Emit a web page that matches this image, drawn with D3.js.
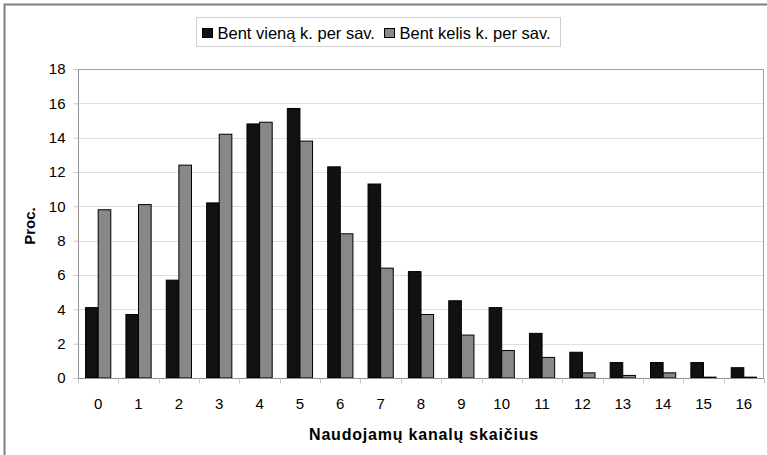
<!DOCTYPE html>
<html>
<head>
<meta charset="utf-8">
<script src="https://cdn.jsdelivr.net/npm/d3@7.9.0/dist/d3.min.js"></script>
<style>
  body { margin: 0; background: #fff; }
  svg { display: block; font-family: "Liberation Sans", Arial, sans-serif; }
</style>
</head>
<body>
<div id="chart"></div>
<script>
const categories = ['0','1','2','3','4','5','6','7','8','9','10','11','12','13','14','15','16'];
const seriesNames = ['Bent vieną k. per sav.', 'Bent kelis k. per sav.'];
const onceWeek  = [4.1, 3.7, 5.7, 10.2, 14.8, 15.7, 12.3, 11.3, 6.2, 4.5, 4.1, 2.6, 1.5, 0.9, 0.9, 0.9, 0.6];
const severalWeek = [9.8, 10.1, 12.4, 14.2, 14.9, 13.8, 8.4, 6.4, 3.7, 2.5, 1.6, 1.2, 0.3, 0.15, 0.3, 0.05, 0.05];
const yTicks = [0, 2, 4, 6, 8, 10, 12, 14, 16, 18];
const colors = ['#111111', '#888888'];

const width = 767, height = 455;
const area = { left: 78, right: 764, top: 69, bottom: 378 };

const svg = d3.select('#chart').append('svg')
  .attr('width', width).attr('height', height);

// outer frame (cropped at right and bottom)
svg.append('path')
  .attr('d', `M4.5,${height + 2}V4.5H${width + 2}`)
  .attr('fill', 'none').attr('stroke', '#808080').attr('stroke-width', 2);

const x = d3.scaleBand().domain(categories).range([area.left, area.right]);
const inner = d3.scaleBand().domain([0, 1]).range([0, x.bandwidth()]).paddingInner(0).paddingOuter(0.6);
const y = d3.scaleLinear().domain([0, 18]).range([area.bottom, area.top]);

// gridlines
svg.append('g')
  .selectAll('line').data(yTicks.slice(1))
  .join('line')
  .attr('x1', area.left).attr('x2', area.right)
  .attr('y1', d => Math.round(y(d)) + 0.5).attr('y2', d => Math.round(y(d)) + 0.5)
  .attr('stroke', '#dedede');

// plot area border top/right
svg.append('path')
  .attr('d', `M${area.left},${area.top + 0.5}H${area.right - 0.5}V${area.bottom}`)
  .attr('fill', 'none').attr('stroke', '#a0a0a0');

// bars
const series = [onceWeek, severalWeek];
series.forEach((vals, si) => {
  svg.append('g')
    .selectAll('rect').data(vals)
    .join('rect')
    .attr('x', (d, i) => x(categories[i]) + inner(si))
    .attr('y', d => y(d))
    .attr('width', inner.bandwidth())
    .attr('height', d => y(0) - y(d))
    .attr('fill', colors[si])
    .attr('stroke', '#000').attr('stroke-width', 1);
});

// x axis
const xAxis = svg.append('g')
  .attr('transform', `translate(0,${area.bottom + 0.5})`);
xAxis.append('line')
  .attr('x1', area.left).attr('x2', area.right)
  .attr('stroke', '#909090');
xAxis.selectAll('.tk').data(d3.range(categories.length + 1))
  .join('line')
  .attr('x1', i => Math.round(area.left + i * x.step()) + 0.5)
  .attr('x2', i => Math.round(area.left + i * x.step()) + 0.5)
  .attr('y1', 0).attr('y2', 5)
  .attr('stroke', '#c8c8c8');
xAxis.selectAll('text').data(categories)
  .join('text')
  .attr('x', d => x(d) + x.bandwidth() / 2)
  .attr('y', 30)
  .attr('text-anchor', 'middle')
  .attr('font-size', 15)
  .attr('fill', '#000')
  .text(d => d);

// y axis
const yAxis = svg.append('g')
  .attr('transform', `translate(${area.left + 0.5},0)`)
  .call(d3.axisLeft(y).tickValues(yTicks).tickSize(5).tickPadding(8));
yAxis.select('.domain').attr('stroke', '#909090').attr('d', `M0,${area.top}V${area.bottom}`);
yAxis.selectAll('.tick line').attr('stroke', '#c8c8c8');
yAxis.selectAll('.tick text').attr('font-size', 15).attr('fill', '#000')
  .attr('font-family', '"Liberation Sans", Arial, sans-serif');

// axis titles
svg.append('text')
  .attr('x', 424).attr('y', 440)
  .attr('text-anchor', 'middle')
  .attr('font-size', 16).attr('font-weight', 'bold')
  .attr('letter-spacing', 0.8)
  .text('Naudojamų kanalų skaičius');
svg.append('text')
  .attr('transform', `translate(35,226) rotate(-90)`)
  .attr('text-anchor', 'middle')
  .attr('font-size', 15).attr('font-weight', 'bold')
  .text('Proc.');

// legend
const legend = svg.append('g');
legend.append('rect')
  .attr('x', 196.5).attr('y', 17.5).attr('width', 364).attr('height', 29)
  .attr('fill', '#fff').attr('stroke', '#d0d0d0');
const legendX = [202.5, 384.5];
seriesNames.forEach((name, i) => {
  legend.append('rect')
    .attr('x', legendX[i]).attr('y', 28.5).attr('width', 10).attr('height', 9)
    .attr('fill', colors[i]).attr('stroke', '#000');
  legend.append('text')
    .attr('x', legendX[i] + 15).attr('y', 38.5)
    .attr('font-size', 16.5)
    .text(name);
});
</script>
</body>
</html>
